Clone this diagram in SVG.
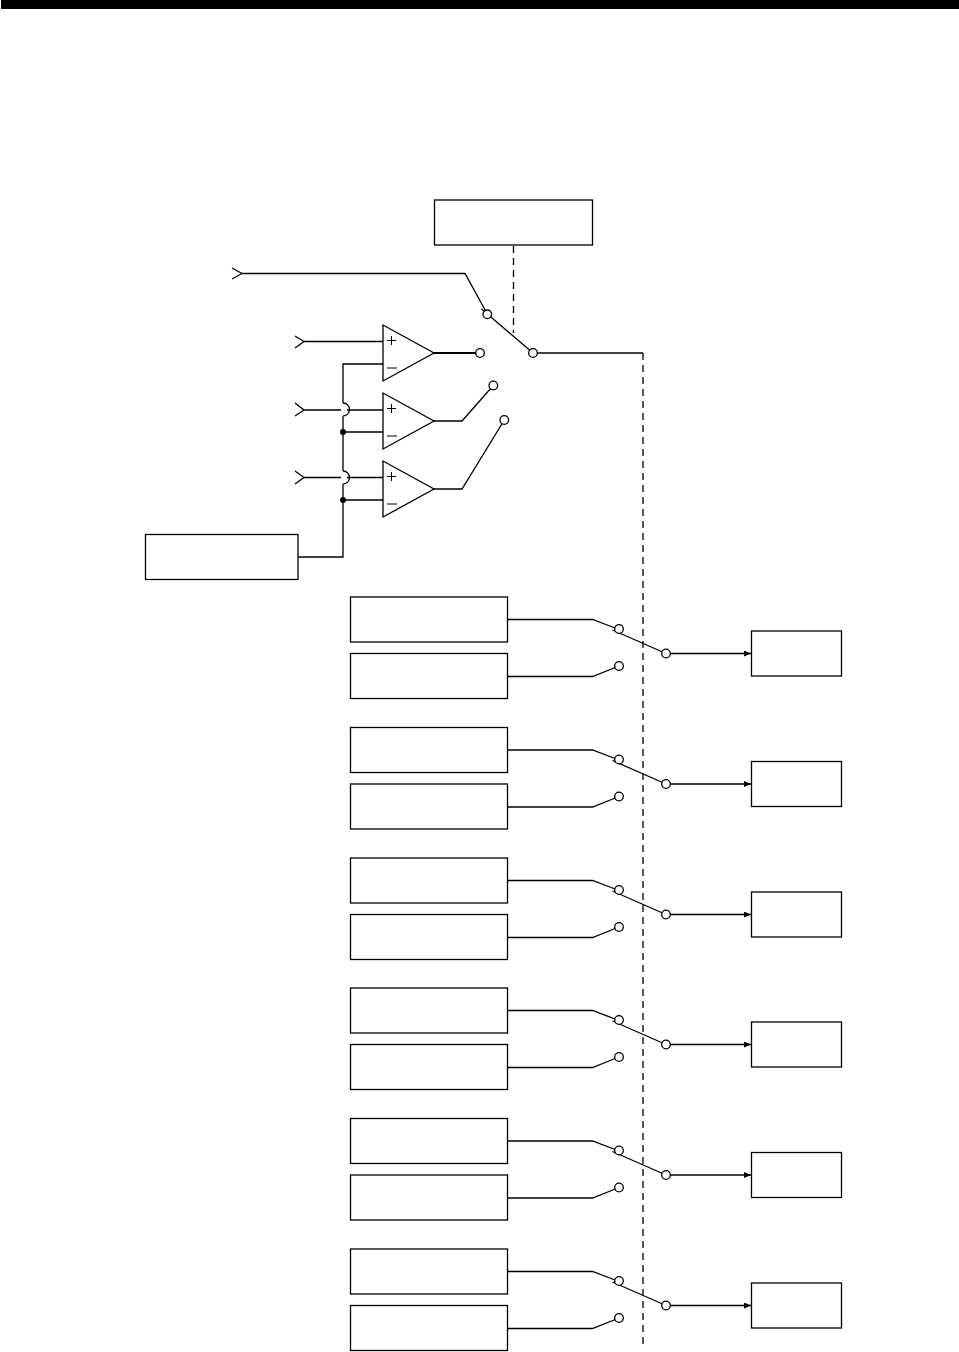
<svg xmlns="http://www.w3.org/2000/svg" xmlns:xlink="http://www.w3.org/1999/xlink" width="959" height="1352" viewBox="0 0 959 1352">
<defs>
<style>
.b{fill:#fff;stroke:#000;stroke-width:1.3}
.l{fill:none;stroke:#000;stroke-width:1.3}
.d{fill:none;stroke:#000;stroke-width:1.3;stroke-dasharray:7 5}
.c{fill:#fff;stroke:#000;stroke-width:1.3}
.s{fill:none;stroke:#000;stroke-width:1}
</style>
<marker id="a" markerWidth="8" markerHeight="8" refX="7" refY="3" orient="auto" markerUnits="userSpaceOnUse"><path d="M0 0L7 3L0 6Z" fill="#000"/></marker>
<g id="amp"><path class="b" d="M383 0V56L434 28Z"/><path class="s" d="M387 15.500H396M391.500 11V20M387 43H397"/></g>
<g id="row">
<rect class="b" x="350.500" y="0.500" width="157" height="45"/>
<rect class="b" x="350.500" y="57" width="157" height="45"/>
<path class="l" d="M508 23H592.500L619 33M508 80H592.500L619 69.500M612.500 33.500L666 57"/>
<path class="l" d="M666 57H751" marker-end="url(#a)"/>
<circle class="c" cx="619" cy="32.500" r="4.300"/><circle class="c" cx="619" cy="69.500" r="4.300"/><circle class="c" cx="666" cy="57" r="4.300"/>
<rect class="b" x="751.500" y="34.500" width="90" height="45"/>
</g>
</defs>
<rect x="1" y="0" width="958" height="9" fill="#000"/>
<g id="connectors">
<path class="d" d="M513.500 246V333"/>
<path class="d" d="M643 353V1346"/>
<path class="l" d="M232 268L242 273.500L232 279M242 273.500H465L487.300 314M481.500 309L533 353M533 353H643"/>
<path class="l" d="M295 336L304 341.500L295 348M304 341.500H383M295 403L304 410L295 416M304 410H341M347 410H383M295 471L304 477.500L295 484M304 477.500H341M347 477.500H383"/>
<path class="l" d="M383 364H343V403M343 416V471M343 484V557H298M343 432H383M343 500H383M343 403A6.500 6.500 0 0 1 343 416M343 471A6.500 6.500 0 0 1 343 484"/>
<path style="fill:none;stroke:#000;stroke-width:2" d="M433 353H480"/>
<path class="l" d="M434 421H462L493.300 385.500M434 489H462L504.300 420"/>
<circle cx="343" cy="432" r="3" fill="#000"/><circle cx="343" cy="500" r="3" fill="#000"/>
<circle class="c" cx="487.300" cy="314.300" r="4.300"/><circle class="c" cx="533" cy="353" r="4.300"/><circle class="c" cx="480" cy="353" r="4.300"/><circle class="c" cx="493.300" cy="385.500" r="4.300"/><circle class="c" cx="504.300" cy="420" r="4.300"/>
</g>
<g id="top-box"><rect class="b" x="434.500" y="200" width="158" height="45"/></g>
<g id="left-box"><rect class="b" x="145.500" y="534.500" width="152.500" height="45"/></g>
<g id="amp1"><use xlink:href="#amp" y="325"/></g>
<g id="amp2"><use xlink:href="#amp" y="393"/></g>
<g id="amp3"><use xlink:href="#amp" y="461"/></g>
<g id="row1"><use xlink:href="#row" y="596.500"/></g>
<g id="row2"><use xlink:href="#row" y="727"/></g>
<g id="row3"><use xlink:href="#row" y="857.500"/></g>
<g id="row4"><use xlink:href="#row" y="987.500"/></g>
<g id="row5"><use xlink:href="#row" y="1118"/></g>
<g id="row6"><use xlink:href="#row" y="1248.500"/></g>
</svg>
